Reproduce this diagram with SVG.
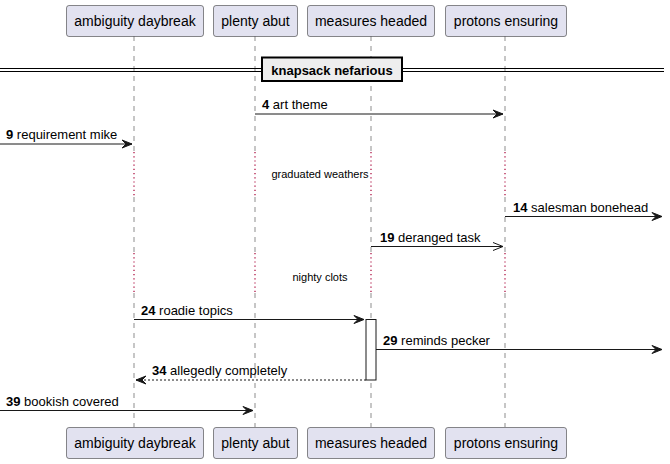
<svg xmlns="http://www.w3.org/2000/svg" width="670" height="464" viewBox="0 0 670 464">
<style>
.part rect{fill:#E2E2F0;stroke:#181818;stroke-width:0.5}
.part text{font-family:"Liberation Sans",Arial,sans-serif;font-size:14px;fill:#000;text-anchor:middle}
.life{stroke:#181818;stroke-width:0.5;stroke-dasharray:5,5;fill:none}
.delay{stroke:#A80036;stroke-width:1.2;stroke-dasharray:1.2,3;fill:none}
.msg{stroke:#181818;stroke-width:1;fill:none}
.ret{stroke:#181818;stroke-width:1;stroke-dasharray:2,2;fill:none}
.lbl{font-family:"Liberation Sans",Arial,sans-serif;font-size:13px;fill:#000}
.lbl tspan.n{font-weight:bold}
.dtxt{font-family:"Liberation Sans",Arial,sans-serif;font-size:11px;fill:#000;text-anchor:middle}
.head{fill:#181818;stroke:#181818;stroke-width:1}
.open{fill:none;stroke:#181818;stroke-width:1}
</style>
<g id="lifelines">
<path class="life" d="M134,36 V152 M134,197 V253 M134,293 V427"/>
<path class="delay" d="M134,152 V197 M134,253 V293"/>
<path class="life" d="M255,36 V152 M255,197 V253 M255,293 V427"/>
<path class="delay" d="M255,152 V197 M255,253 V293"/>
<path class="life" d="M371,36 V152 M371,197 V253 M371,293 V427"/>
<path class="delay" d="M371,152 V197 M371,253 V293"/>
<path class="life" d="M505,36 V152 M505,197 V253 M505,293 V427"/>
<path class="delay" d="M505,152 V197 M505,253 V293"/>
</g>
<g id="p-ambiguity" class="part">
<rect x="66.5" y="5.5" width="137" height="31" rx="2.5"/>
<text x="135" y="26">ambiguity daybreak</text>
<rect x="66.5" y="427.5" width="137" height="31" rx="2.5"/>
<text x="135" y="448">ambiguity daybreak</text>
</g>
<g id="p-plenty" class="part">
<rect x="213.5" y="5.5" width="84" height="31" rx="2.5"/>
<text x="255.5" y="26">plenty abut</text>
<rect x="213.5" y="427.5" width="84" height="31" rx="2.5"/>
<text x="255.5" y="448">plenty abut</text>
</g>
<g id="p-measures" class="part">
<rect x="307.5" y="5.5" width="127" height="31" rx="2.5"/>
<text x="371" y="26">measures headed</text>
<rect x="307.5" y="427.5" width="127" height="31" rx="2.5"/>
<text x="371" y="448">measures headed</text>
</g>
<g id="p-protons" class="part">
<rect x="445.5" y="5.5" width="121" height="31" rx="2.5"/>
<text x="506" y="26">protons ensuring</text>
<rect x="445.5" y="427.5" width="121" height="31" rx="2.5"/>
<text x="506" y="448">protons ensuring</text>
</g>
<g id="divider">
<path d="M0,68.5 H664 M0,71.5 H664" stroke="#000" stroke-width="1.2" fill="none"/>
<rect x="262" y="57.5" width="140" height="23.5" fill="#EEEEEE" stroke="#000" stroke-width="2"/>
<text x="332" y="75" font-family="Liberation Sans,Arial,sans-serif" font-size="13" font-weight="bold" text-anchor="middle">knapsack nefarious</text>
</g>
<g id="activation">
<rect x="366" y="319.5" width="10" height="60.5" fill="#FFFFFF" stroke="#181818" stroke-width="1"/>
</g>
<g id="connectors">
<line class="msg" x1="255" y1="114" x2="503" y2="114"/>
<polygon class="head" points="493,110 503,114 493,118 497,114"/>
<text class="lbl" x="262" y="109"><tspan class="n">4</tspan> art theme</text>

<line class="msg" x1="0" y1="144" x2="132" y2="144"/>
<polygon class="head" points="122,140 132,144 122,148 126,144"/>
<text class="lbl" x="6" y="139"><tspan class="n">9</tspan> requirement mike</text>

<text class="dtxt" x="320" y="178">graduated weathers</text>

<line class="msg" x1="505" y1="216.5" x2="662" y2="216.5"/>
<polygon class="head" points="652,212.5 662,216.5 652,220.5 656,216.5"/>
<text class="lbl" x="513" y="211.5"><tspan class="n">14</tspan> salesman bonehead</text>

<line class="msg" x1="371" y1="246.5" x2="503" y2="246.5"/>
<polyline class="open" points="493,242.5 503,246.5 493,250.5"/>
<text class="lbl" x="380" y="241.5"><tspan class="n">19</tspan> deranged task</text>

<text class="dtxt" x="320" y="281">nighty clots</text>

<line class="msg" x1="134" y1="319.5" x2="364" y2="319.5"/>
<polygon class="head" points="354,315.5 364,319.5 354,323.5 358,319.5"/>
<text class="lbl" x="141" y="314.5"><tspan class="n">24</tspan> roadie topics</text>

<line class="msg" x1="376" y1="349.5" x2="662" y2="349.5"/>
<polygon class="head" points="652,345.5 662,349.5 652,353.5 656,349.5"/>
<text class="lbl" x="383" y="344.5"><tspan class="n">29</tspan> reminds pecker</text>

<line class="ret" x1="366" y1="380" x2="136" y2="380"/>
<polygon class="head" points="146,376 136,380 146,384 142,380"/>
<text class="lbl" x="152" y="375"><tspan class="n">34</tspan> allegedly completely</text>

<line class="msg" x1="0" y1="410.5" x2="253" y2="410.5"/>
<polygon class="head" points="243,406.5 253,410.5 243,414.5 247,410.5"/>
<text class="lbl" x="6" y="405.5"><tspan class="n">39</tspan> bookish covered</text>
</g>
</svg>
